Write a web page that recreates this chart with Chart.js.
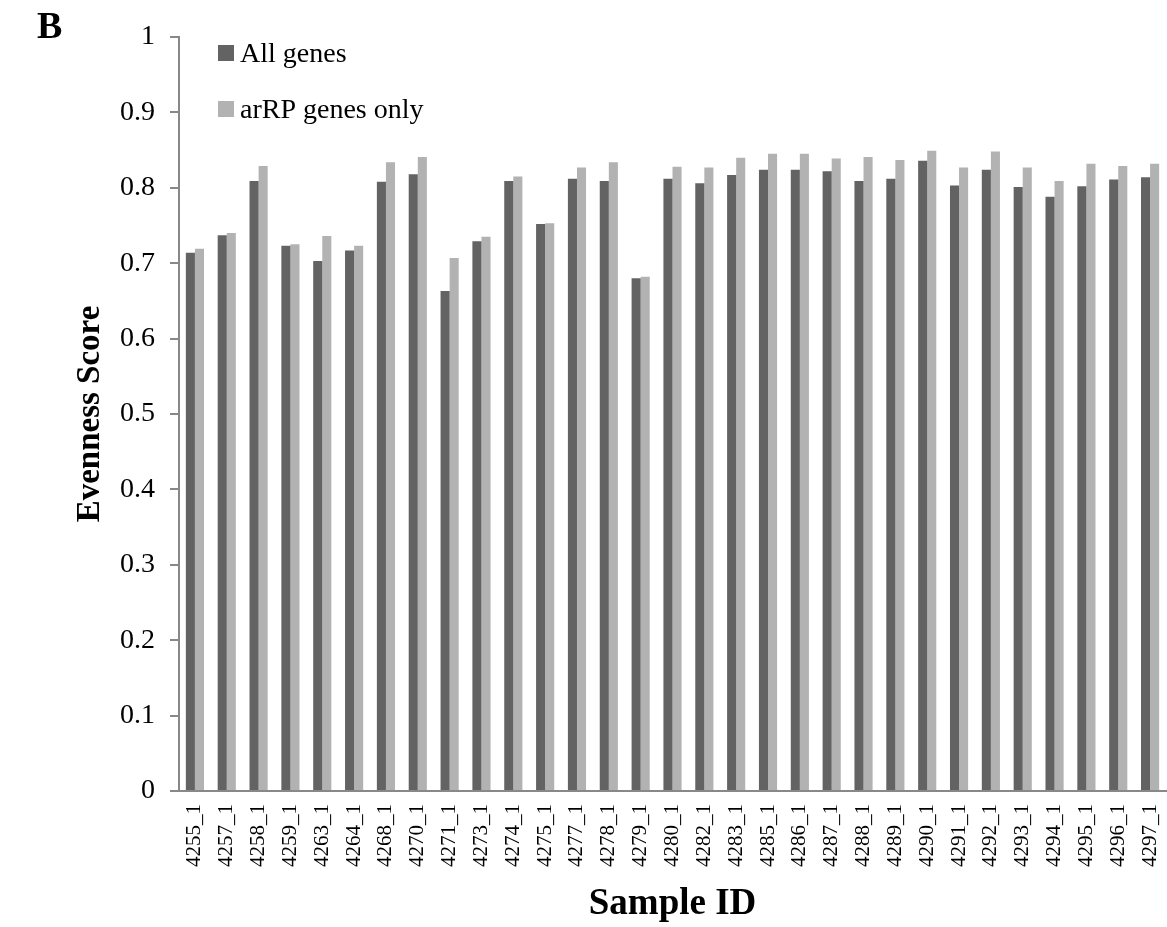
<!DOCTYPE html>
<html>
<head>
<meta charset="utf-8">
<script src="https://cdn.jsdelivr.net/npm/chart.js@4/dist/chart.umd.min.js"></script>
<style>
  html, body { margin: 0; padding: 0; background: #fff; }
  #wrap { width: 1167px; height: 927px; position: relative; }
</style>
</head>
<body>
<div id="wrap"><canvas id="myChart" width="1167" height="927"></canvas></div>
<script>
var sampleIds = ['4255_1','4257_1','4258_1','4259_1','4263_1','4264_1','4268_1','4270_1','4271_1','4273_1',
    '4274_1','4275_1','4277_1','4278_1','4279_1','4280_1','4282_1','4283_1','4285_1','4286_1',
    '4287_1','4288_1','4289_1','4290_1','4291_1','4292_1','4293_1','4294_1','4295_1','4296_1','4297_1'];
var allGenes = [0.714,0.737,0.809,0.723,0.703,0.717,0.808,0.818,0.663,0.729,
    0.809,0.752,0.812,0.809,0.680,0.812,0.806,0.817,0.824,0.824,
    0.822,0.809,0.812,0.836,0.803,0.824,0.801,0.788,0.802,0.811,0.814];
var arrpGenes = [0.719,0.740,0.829,0.725,0.736,0.723,0.834,0.841,0.707,0.735,
    0.815,0.753,0.827,0.834,0.682,0.828,0.827,0.840,0.845,0.845,
    0.839,0.841,0.837,0.849,0.827,0.848,0.827,0.809,0.832,0.829,0.832];
var yTicks = [0,0.1,0.2,0.3,0.4,0.5,0.6,0.7,0.8,0.9,1];

var serif = "'Liberation Serif', 'Times New Roman', serif";
var axisGrey = '#888888';

// legend inside the plot, top left, plus the panel letter
var extras = {
    id: 'extras',
    afterDraw: function(chart) {
        var c = chart.ctx, a = chart.chartArea;
        c.save();
        c.font = 'bold 38px ' + serif;
        c.fillStyle = '#000';
        c.textBaseline = 'alphabetic';
        c.fillText('B', 37, 38);
        var items = [['All genes', '#636363'], ['arRP genes only', '#b2b2b2']];
        c.font = '28px ' + serif;
        items.forEach(function(it, i) {
            var y = a.top + 8 + i * 56;
            c.fillStyle = it[1];
            c.fillRect(a.left + 39, y, 16, 16);
            c.fillStyle = '#000';
            c.fillText(it[0], a.left + 61, y + 17);
        });
        c.restore();
    }
};

var ctx = document.getElementById('myChart').getContext('2d');
var myChart = new Chart(ctx, {
    type: 'bar',
    data: {
        labels: sampleIds,
        datasets: [{
            label: 'All genes',
            data: allGenes,
            backgroundColor: '#636363',
            categoryPercentage: 0.57,
            barPercentage: 1.0
        }, {
            label: 'arRP genes only',
            data: arrpGenes,
            backgroundColor: '#b2b2b2',
            categoryPercentage: 0.57,
            barPercentage: 1.0
        }]
    },
    options: {
        responsive: false,
        animation: false,
        layout: { padding: { top: 37, right: 1, bottom: 0, left: 0 } },
        plugins: { legend: { display: false }, tooltip: { enabled: false } },
        scales: {
            x: {
                grid: { display: false, drawTicks: false },
                border: { color: axisGrey, width: 2 },
                ticks: {
                    color: '#000',
                    font: { family: serif, size: 21 },
                    minRotation: 90, maxRotation: 90,
                    autoSkip: false,
                    padding: 13
                },
                title: {
                    display: true,
                    text: 'Sample ID',
                    color: '#000',
                    font: { family: serif, size: 37, weight: 'bold' },
                    padding: { top: 0, bottom: 0 }
                },
                afterFit: function(s) {
                    s.height = 136;
                    s.paddingLeft = 0;
                    s.paddingRight = 0;
                }
            },
            y: {
                min: 0, max: 1,
                afterBuildTicks: function(s) { s.ticks = yTicks.map(function(v) { return { value: v }; }); },
                grid: { drawOnChartArea: false, drawTicks: true, tickLength: 9, color: axisGrey, lineWidth: 2 },
                border: { color: axisGrey, width: 2 },
                ticks: {
                    color: '#000',
                    font: { family: serif, size: 28 },
                    padding: 15,
                    callback: function(v) { return String(v); }
                },
                title: {
                    display: true,
                    text: 'Evenness Score',
                    color: '#000',
                    font: { family: serif, size: 33, weight: 'bold' },
                    padding: { top: 71, bottom: 0 }
                },
                afterFit: function(s) { s.width = 179; }
            }
        }
    },
    plugins: [extras]
});
</script>
</body>
</html>
